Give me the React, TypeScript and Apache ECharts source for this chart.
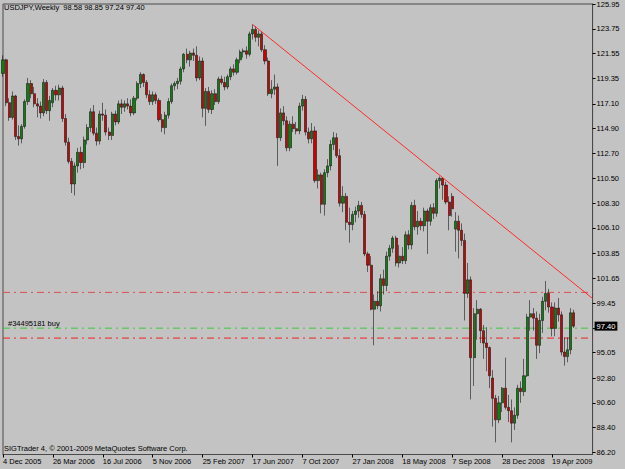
import React, { useEffect, useRef } from "react";
import * as echarts from "echarts";

// ---- data (weekly USDJPY bars, week starting 4 Dec 2005) ----
const opens = [
  119.8, 121.0, 117.2, 115.9, 117.8, 114.2, 114.0, 115.1, 117.3, 118.9,
  118.0, 117.1, 116.9, 116.3, 119.0, 116.5, 117.2, 118.3, 117.9, 118.5,
  115.8, 113.7, 112.0, 110.0, 111.6, 112.8, 111.9, 113.9, 115.0, 116.4,
  114.5, 113.8, 116.2, 116.1, 114.6, 114.3, 116.2, 115.5, 117.1, 116.8,
  117.1, 116.9, 116.3, 117.6, 118.9, 119.7, 119.0, 117.9, 117.3, 117.9,
  117.4, 115.7, 115.0, 116.1, 117.3, 118.7, 118.9, 119.1, 120.2, 121.5,
  121.0, 121.6, 121.4, 119.4, 120.9, 116.7, 118.2, 116.6, 118.0, 117.3,
  119.3, 119.0, 118.6, 119.5, 120.2, 119.9, 121.0, 121.7, 121.8, 121.5,
  123.3, 123.7, 123.0, 123.3, 121.9, 120.9, 118.0, 118.4, 118.6, 114.1,
  116.3, 115.6, 113.2, 115.3, 114.9, 114.7, 116.9, 117.5, 114.6, 114.0,
  114.7, 110.3, 110.8, 108.2, 111.0, 111.6, 113.5, 114.1, 112.5, 108.3,
  108.9, 106.6, 106.4, 107.3, 107.6, 108.1, 107.3, 103.8, 102.8, 98.9,
  99.6, 99.2, 101.6, 101.0, 103.6, 104.3, 105.2, 103.0, 103.6, 103.2,
  105.5, 104.6, 108.1, 106.2, 106.7, 106.3, 107.6, 106.7, 107.9, 107.4,
  110.3, 110.5, 109.9, 108.4, 108.9, 106.0, 106.7, 105.9, 105.0, 100.3,
  101.5, 94.6, 98.5, 98.9, 97.0, 95.9, 95.5, 92.8, 91.0, 89.1,
  90.6, 91.9, 90.2, 89.9, 88.8, 89.5, 91.9, 91.6, 93.0, 98.2,
  98.5, 98.1, 95.7, 97.9, 99.6, 100.3, 99.1, 97.2, 99.0, 98.4,
  95.1, 94.7, 95.3, 98.58,
];
const highs = [
  121.4, 121.1, 117.6, 118.2, 117.9, 115.2, 115.3, 117.5, 119.4, 119.2,
  118.6, 117.6, 117.3, 119.3, 119.2, 117.8, 118.5, 118.7, 118.8, 118.7,
  116.2, 114.1, 112.3, 111.9, 113.2, 113.3, 114.2, 115.3, 116.7, 117.0,
  115.0, 116.5, 117.2, 116.6, 115.0, 116.4, 116.5, 117.4, 117.5, 117.4,
  117.6, 117.5, 117.8, 119.1, 119.9, 119.8, 119.2, 118.3, 118.2, 118.1,
  117.6, 116.2, 116.4, 117.6, 118.9, 119.1, 119.4, 120.4, 121.6, 122.0,
  121.8, 122.0, 122.2, 121.3, 121.2, 118.5, 118.6, 118.3, 118.4, 119.5,
  119.6, 119.5, 119.7, 120.4, 120.6, 121.2, 121.9, 122.0, 122.2, 123.5,
  124.14, 124.0, 123.6, 123.5, 122.3, 121.2, 119.2, 119.7, 118.9, 116.7,
  116.9, 116.0, 115.6, 116.0, 115.5, 117.2, 117.9, 117.8, 115.0, 115.4,
  115.1, 111.3, 111.0, 111.3, 112.2, 113.9, 114.6, 114.5, 113.1, 109.8,
  109.2, 107.9, 107.6, 108.0, 108.5, 108.4, 107.6, 104.0, 103.6, 100.2,
  100.5, 102.0, 102.4, 104.0, 104.6, 105.4, 105.4, 104.6, 104.4, 105.8,
  105.9, 108.4, 108.6, 107.6, 107.0, 107.9, 107.8, 108.2, 108.3, 110.5,
  110.67, 110.6, 110.2, 108.9, 109.2, 107.5, 107.2, 106.5, 105.6, 103.0,
  101.8, 99.0, 99.7, 99.0, 97.5, 97.3, 95.6, 93.5, 91.3, 91.2,
  92.0, 94.6, 91.3, 90.9, 90.2, 92.2, 92.5, 94.5, 98.5, 99.7,
  99.0, 98.7, 98.5, 100.0, 101.4, 100.7, 99.5, 99.5, 99.9, 98.7,
  96.4, 96.4, 99.0, 98.85,
];
const lows = [
  119.5, 116.9, 115.6, 115.7, 113.9, 113.4, 113.6, 114.9, 117.0, 117.6,
  116.8, 115.9, 115.8, 116.0, 116.2, 115.6, 116.8, 117.4, 117.4, 115.5,
  113.4, 111.8, 109.2, 108.98, 111.0, 111.3, 111.4, 113.5, 114.6, 114.3,
  113.4, 113.5, 115.6, 114.3, 113.9, 113.9, 115.2, 115.3, 116.2, 116.4,
  116.6, 116.0, 116.1, 117.4, 118.5, 118.6, 117.6, 117.0, 117.0, 117.1,
  115.5, 114.6, 114.4, 115.8, 117.1, 118.3, 118.4, 118.8, 119.9, 120.7,
  120.4, 120.9, 119.1, 119.2, 115.9, 115.15, 116.3, 116.2, 117.0, 117.1,
  118.8, 118.3, 118.4, 119.2, 119.6, 119.7, 120.7, 121.2, 121.1, 121.3,
  122.8, 122.6, 122.2, 121.7, 120.6, 117.8, 117.6, 117.9, 111.6, 113.8,
  115.2, 112.9, 112.9, 114.6, 114.4, 114.4, 116.5, 114.3, 113.6, 113.6,
  110.1, 109.6, 107.4, 107.2, 110.6, 111.2, 113.0, 112.3, 108.0, 107.5,
  105.9, 104.8, 105.9, 106.6, 107.0, 107.0, 103.6, 102.2, 98.8, 95.7,
  98.9, 98.7, 100.2, 100.5, 103.2, 103.9, 102.7, 102.6, 102.9, 102.9,
  104.2, 104.2, 105.9, 105.5, 105.9, 105.8, 103.8, 106.3, 106.9, 107.1,
  109.6, 108.6, 108.2, 105.9, 107.1, 104.0, 103.4, 104.5, 97.9, 99.9,
  90.9, 92.1, 96.2, 95.9, 94.5, 93.4, 91.9, 88.5, 87.1, 88.8,
  89.8, 90.0, 88.9, 87.1, 88.2, 89.2, 90.6, 91.2, 92.9, 97.0,
  97.0, 94.5, 95.0, 96.8, 98.8, 98.6, 96.5, 96.5, 97.8, 94.8,
  93.9, 94.2, 94.9, 97.24,
];
const closes = [
  121.0, 117.2, 115.9, 117.8, 114.2, 114.0, 115.1, 117.3, 118.9, 118.0,
  117.1, 116.9, 116.3, 119.0, 116.5, 117.4, 118.3, 117.9, 118.5, 115.8,
  113.7, 112.0, 110.0, 111.6, 112.8, 111.9, 113.9, 115.0, 116.4, 114.5,
  113.8, 116.2, 116.1, 114.6, 114.3, 116.2, 115.5, 117.1, 116.8, 117.1,
  116.9, 116.3, 117.6, 118.9, 119.7, 119.0, 117.9, 117.3, 117.9, 117.4,
  115.7, 115.0, 116.1, 117.3, 118.7, 118.9, 119.1, 120.2, 121.5, 121.0,
  121.6, 121.4, 119.4, 120.9, 116.7, 118.2, 116.6, 118.0, 117.3, 119.3,
  119.0, 118.6, 119.5, 120.2, 119.9, 121.0, 121.7, 121.8, 121.5, 123.3,
  123.7, 123.0, 123.3, 121.9, 120.9, 118.0, 118.4, 118.6, 114.1, 116.3,
  115.6, 113.2, 115.3, 114.9, 114.7, 116.9, 117.5, 114.6, 114.0, 114.7,
  110.3, 110.8, 108.2, 111.0, 111.6, 113.5, 114.1, 112.5, 108.3, 108.9,
  106.6, 106.4, 107.3, 107.6, 108.1, 107.3, 103.8, 102.8, 98.9, 99.6,
  99.2, 101.6, 101.0, 103.6, 104.3, 105.2, 103.0, 103.6, 103.2, 105.5,
  104.6, 108.1, 106.2, 106.7, 106.3, 107.6, 106.7, 107.9, 107.4, 110.3,
  110.5, 109.9, 108.4, 107.2, 107.8, 106.7, 105.9, 105.0, 100.3, 101.5,
  94.6, 98.5, 98.9, 97.0, 95.9, 95.5, 93.0, 91.0, 89.1, 90.6,
  91.9, 90.2, 89.9, 88.8, 89.5, 91.9, 91.6, 93.0, 98.2, 98.5,
  98.1, 95.7, 97.9, 99.6, 100.3, 99.1, 97.2, 99.0, 98.4, 95.1,
  94.7, 95.3, 98.58, 97.4,
];

const tickLabels = [
  "4 Dec 2005", "26 Mar 2006", "16 Jul 2006", "5 Nov 2006",
  "25 Feb 2007", "17 Jun 2007", "7 Oct 2007", "27 Jan 2008",
  "18 May 2008", "7 Sep 2008", "28 Dec 2008", "19 Apr 2009",
];
const labelEvery = 16;
const priceTicks = [
  86.2, 88.4, 90.6, 92.8, 95.05, 97.25, 99.45, 101.65, 103.85, 106.1,
  108.3, 110.5, 112.7, 114.9, 117.1, 119.35, 121.55, 123.75, 125.95,
];
const hiddenPriceLabel = 97.25;
const slotCount = 190;
const priceMin = 86.023;
const priceMax = 125.95;

const chartTitle = "USDJPY,Weekly  98.58 98.85 97.24 97.40";
const copyright = "SIGTrader 4, \u00a9 2001-2009 MetaQuotes Software Corp.";
const orderLabel = "#34495181 buy";
const orderPrice = 97.22;
const stopPrice = 96.34;
const upperLevel = 100.39;
const lastPrice = 97.4;
const trendStart = [80, 124.14];
const trendEnd = [189, 99.85];

const FONT = "Liberation Sans, Arial, sans-serif";
const dashDot = [7, 4, 2, 4];

function levelSeries(name: string, value: number, color: string, z: number) {
  return {
    name,
    type: "line",
    data: [
      [0, value],
      [slotCount - 1, value],
    ],
    symbol: "none",
    silent: true,
    z,
    color,
    lineStyle: { color, type: dashDot, width: 1, opacity: 1 },
    emphasis: { disabled: true },
  };
}

export default function App() {
  const ref = useRef<HTMLDivElement>(null);
  useEffect(() => {
    if (!ref.current) return;
    const chart = echarts.init(ref.current, null, { renderer: "svg" });
    const cats = Array.from({ length: slotCount }, (_, i) => String(i));
    const candles = opens.map((o, i) => [o, closes[i], lows[i], highs[i]]);
    const showTick = (i: number) => i % labelEvery === 0 && i / labelEvery < tickLabels.length;

    chart.setOption({
      animation: false,
      backgroundColor: "#c3c3c3",
      textStyle: { fontFamily: FONT },
      grid: {
        left: 2,
        right: 32.4,
        top: 1.5,
        bottom: 14.5,
        show: true,
        borderColor: "#4a4a4a",
        borderWidth: 1,
        backgroundColor: "#c3c3c3",
      },
      graphic: [
        {
          type: "text",
          left: 4,
          top: 3,
          style: { text: chartTitle, fontSize: 7.5, fill: "#000", fontFamily: FONT },
        },
        {
          type: "text",
          left: 4,
          top: 444,
          style: { text: copyright, fontSize: 7.5, fill: "#000", fontFamily: FONT },
        },
      ],
      xAxis: {
        type: "category",
        data: cats,
        boundaryGap: false,
        axisLine: { show: true, lineStyle: { color: "#4a4a4a", width: 1 } },
        axisTick: { show: true, interval: (i: number) => showTick(i), length: 3, lineStyle: { color: "#000" } },
        axisLabel: {
          interval: (i: number) => showTick(i),
          formatter: (_v: string, i: number) => tickLabels[i / labelEvery] || "",
          align: "left",
          fontSize: 7.5,
          color: "#000",
          margin: 3,
          fontFamily: FONT,
        },
        splitLine: { show: false },
      },
      yAxis: {
        type: "value",
        position: "right",
        min: priceMin,
        max: priceMax,
        axisLine: { show: true, lineStyle: { color: "#4a4a4a", width: 1 } },
        axisTick: { show: true, length: 3, customValues: priceTicks, lineStyle: { color: "#000" } },
        axisLabel: {
          customValues: priceTicks.filter((v) => v !== hiddenPriceLabel),
          formatter: (v: number) => v.toFixed(2),
          fontSize: 7.5,
          color: "#000",
          margin: 4,
          fontFamily: FONT,
        },
        splitLine: { show: false },
      },
      series: [
        levelSeries("upper", upperLevel, "#dc5050", 2),
        levelSeries("order", orderPrice, "#3cc83c", 2),
        levelSeries("stop", stopPrice, "#ee2222", 2),
        {
          name: "labels",
          type: "line",
          data: [],
          silent: true,
          markLine: {
            silent: true,
            symbol: "none",
            animation: false,
            lineStyle: { color: "rgba(0,0,0,0)", width: 1 },
            data: [
              {
                yAxis: orderPrice,
                label: {
                  show: true,
                  position: "insideStartTop",
                  formatter: orderLabel,
                  color: "#000",
                  fontSize: 7.5,
                  distance: [5, 1],
                  fontFamily: FONT,
                },
              },
              {
                yAxis: lastPrice,
                label: {
                  show: true,
                  position: "end",
                  formatter: lastPrice.toFixed(2),
                  color: "#fff",
                  backgroundColor: "#000",
                  padding: [1, 2, 0, 2],
                  fontSize: 7.5,
                  distance: 2,
                  fontFamily: FONT,
                },
              },
            ],
          },
        },
        {
          name: "USDJPY",
          type: "candlestick",
          data: candles,
          barWidth: 2.6,
          clip: false,
          z: 3,
          itemStyle: {
            color: "#0e7f0e",
            color0: "#d00000",
            borderColor: "#151515",
            borderColor0: "#151515",
            borderWidth: 0.6,
          },
          markLine: {
            silent: true,
            symbol: "none",
            animation: false,
            label: { show: false },
            lineStyle: { color: "#ff2a2a", type: "solid", width: 1 },
            data: [[{ coord: trendStart }, { coord: trendEnd }]],
          },
        },
      ],
    });
    return () => chart.dispose();
  }, []);
  return (
    <div
      ref={ref}
      style={{ position: "fixed", left: 0, top: 0, width: 625, height: 469 }}
    />
  );
}
